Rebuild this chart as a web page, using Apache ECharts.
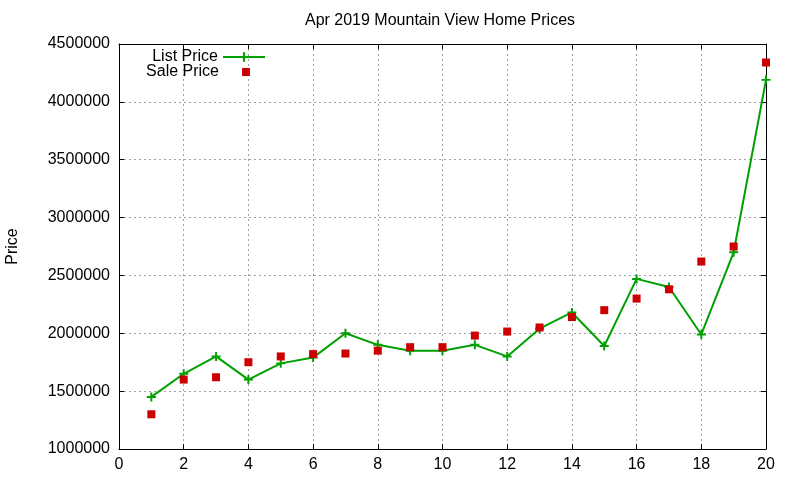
<!DOCTYPE html>
<html>
<head>
<meta charset="utf-8">
<script src="https://cdn.jsdelivr.net/npm/echarts@6/dist/echarts.min.js"></script>
<style>
  html, body { margin: 0; padding: 0; background: #fff; }
  #chart { width: 800px; height: 480px; }
</style>
</head>
<body>
<div id="chart"></div>
<script>
// home index (x axis)
var homeIndex = [1, 2, 3, 4, 5, 6, 7, 8, 9, 10, 11, 12, 13, 14, 15, 16, 17, 18, 19, 20];
var listPrice = [1450000, 1650000, 1800000, 1600000, 1740000, 1790000, 2000000, 1900000, 1850000, 1850000,
                 1900000, 1800000, 2040000, 2180000, 1890000, 2470000, 2400000, 1990000, 2700000, 4190000];
var salePrice = [1300000, 1600000, 1620000, 1750000, 1800000, 1820000, 1825000, 1850000, 1880000, 1880000,
                 1980000, 2015000, 2050000, 2140000, 2200000, 2300000, 2380000, 2620000, 2750000, 4340000];
var xTicks = { min: 0, max: 20, step: 2 };
var yTicks = { min: 1000000, max: 4500000, step: 500000 };

var FONT = 'Liberation Sans';
var plus = 'path://M-1,-0.22H-0.22V-1H0.22V-0.22H1V0.22H0.22V1H-0.22V0.22H-1Z';

function pairs(ys) {
  return homeIndex.map(function (x, i) { return [x, ys[i]]; });
}

var chart = echarts.init(document.getElementById('chart'));

var gridLine = { show: true, lineStyle: { color: '#a0a0a0', type: [2, 3], width: 1 } };
var axisBlack = { show: true, onZero: false, lineStyle: { color: '#000', width: 1 } };
var tickIn = { show: true, inside: true, length: 5, lineStyle: { color: '#000' } };

var option = {
  animation: false,
  backgroundColor: '#fff',
  textStyle: { fontFamily: FONT },
  title: {
    text: 'Apr 2019 Mountain View Home Prices',
    left: 435,
    top: 8,
    textAlign: 'center',
    textStyle: { fontFamily: FONT, fontSize: 16, fontWeight: 'normal', color: '#000' }
  },
  grid: { left: 119, right: 34, top: 44, bottom: 31, containLabel: false, outerBoundsMode: 'none' },
  legend: [{
    data: ['List Price'],
    right: 534,
    top: 49,
    align: 'right',
    padding: 0,
    itemWidth: 42,
    itemHeight: 12,
    textStyle: { fontFamily: FONT, fontSize: 16, color: '#000' }
  }, {
    data: ['Sale Price'],
    right: 550,
    top: 64,
    align: 'right',
    padding: 0,
    itemWidth: 8,
    itemHeight: 8,
    textStyle: { fontFamily: FONT, fontSize: 16, color: '#000', padding: [0, 18, 0, 0] }
  }],
  xAxis: [{
    type: 'value',
    min: xTicks.min, max: xTicks.max, interval: xTicks.step,
    axisLine: axisBlack,
    axisTick: tickIn,
    axisLabel: { color: '#000', fontSize: 16, fontFamily: FONT, margin: 8 },
    splitLine: gridLine
  }, {
    type: 'value', position: 'top',
    min: xTicks.min, max: xTicks.max, interval: xTicks.step,
    axisLine: axisBlack, axisTick: tickIn,
    axisLabel: { show: false }, splitLine: { show: false }
  }],
  yAxis: [{
    type: 'value',
    min: yTicks.min, max: yTicks.max, interval: yTicks.step,
    name: 'Price',
    nameLocation: 'middle',
    nameGap: 98,
    nameTextStyle: { color: '#000', fontSize: 16, fontFamily: FONT },
    axisLine: axisBlack,
    axisTick: tickIn,
    axisLabel: {
      color: '#000', fontSize: 16, fontFamily: FONT, margin: 9,
      formatter: function (v) { return String(v); }
    },
    splitLine: gridLine
  }, {
    type: 'value', position: 'right',
    min: yTicks.min, max: yTicks.max, interval: yTicks.step,
    axisLine: axisBlack, axisTick: tickIn,
    axisLabel: { show: false }, splitLine: { show: false }
  }],
  series: [{
    name: 'List Price',
    type: 'line',
    data: pairs(listPrice),
    clip: false,
    symbol: plus,
    symbolSize: 9,
    showAllSymbol: true,
    lineStyle: { color: '#00a000', width: 2 },
    itemStyle: { color: '#00a000' }
  }, {
    name: 'Sale Price',
    type: 'scatter',
    data: pairs(salePrice),
    clip: false,
    symbol: 'rect',
    symbolSize: 8,
    itemStyle: { color: '#cc0000', opacity: 1 },
    z: 3
  }]
};

chart.setOption(option);
</script>
</body>
</html>
